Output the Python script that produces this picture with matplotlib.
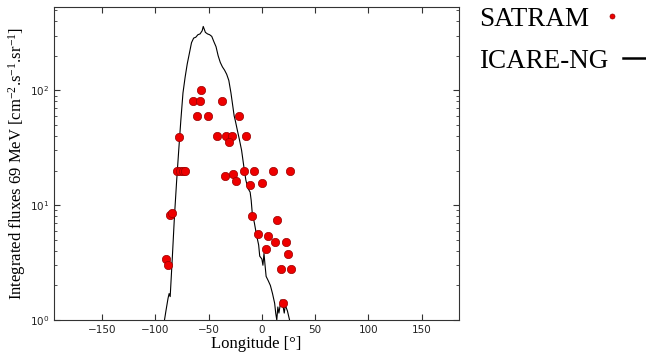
import numpy as np
import matplotlib.pyplot as plt

plt.rcParams['mathtext.fontset'] = 'custom'
plt.rcParams['mathtext.rm'] = 'Liberation Serif'
plt.rcParams['mathtext.it'] = 'Liberation Serif:italic'

# SATRAM measurements (longitude, flux)
sat_lon = [-90, -88.4, -86.3, -84.7, -78.1, -80, -76.9, -74.4, -71.9,
           -65, -58.4, -56.9, -60.7, -50.9, -42.5, -37.2, -33.5, -28.4,
           -30.9, -21.3, -15, -17.2, -7.2, 10.3, 26.6, -34.7, -27.2,
           -24.7, -11, 0.3, -9.4, 14, -3.75, 6.2, 12.5, 22.2, 4, 24.1,
           17.8, 27.8, 20.3]
sat_flux = [3.37, 3.0, 8.2, 8.5, 39, 20, 20, 20, 20,
            80, 80, 100, 59.4, 59.4, 40.4, 80, 40, 40,
            35.3, 59.4, 40, 20, 20, 20, 20, 18.1, 18.7,
            16.4, 14.9, 15.6, 8.13, 7.36, 5.6, 5.38, 4.77, 4.77, 4.17, 3.77,
            2.78, 2.78, 1.4]

# ICARE-NG simulated profile
ic_lon = [-93, -90, -88, -87, -86, -84, -82, -80, -78, -76, -74, -72, -70,
          -68, -66, -64, -62, -60, -58, -56, -55, -54, -53, -51, -49, -47,
          -45, -43, -41, -39, -37, -35, -33, -31, -29, -27, -26, -25, -23,
          -21, -19, -17, -15, -13, -11, -10, -9, -7, -5, -3, -2, 0, 1, 2,
          3, 4, 6, 8, 10, 12, 13, 14, 15, 16, 18, 20, 21, 22, 24, 26, 27]
ic_flux = [0.8, 1.2, 1.55, 1.7, 1.6, 3.5, 8, 16, 30, 55, 95, 130, 170,
           210, 260, 285, 290, 305, 310, 330, 360, 340, 320, 310, 305, 295,
           265, 240, 200, 175, 160, 150, 138, 122, 95, 70, 60, 55, 45,
           37, 30, 22, 16.5, 14, 13, 11, 8.5, 7, 5.5, 4.5, 3.6, 3.4, 3.0, 3.8,
           3.0, 2.4, 2.2, 2.0, 1.7, 1.4, 1.15, 1.0, 1.3, 1.15, 1.5, 1.3, 1.15,
           1.35, 1.2, 1.0, 0.9]

fig = plt.figure(figsize=(6.46, 3.58), dpi=100)
ax = fig.add_axes([0.0836, 0.106, 0.627, 0.874])

sat, = ax.plot(sat_lon, sat_flux, 'o', color='#ee0000', markeredgecolor='#990000',
               markeredgewidth=0.5, markersize=6, label='SATRAM', zorder=3)
ic, = ax.plot(ic_lon, ic_flux, color='black', linewidth=0.8, label='ICARE-NG')

ax.set_yscale('log')
ax.set_xlim(-195, 185)
ax.set_ylim(1, 530)
ax.set_xticks([-150, -100, -50, 0, 50, 100, 150])

ax.tick_params(which='both', direction='in', top=True, right=True,
               labelsize=7.5, colors='#333333', labelcolor='#222222')
ax.tick_params(which='major', length=4)
ax.tick_params(which='minor', length=2)
for s in ax.spines.values():
    s.set_color('#333333')

ax.set_xlabel('Longitude [°]', family='Liberation Serif', fontsize=12, labelpad=1)
ax.set_ylabel('Integrated fluxes 69 MeV [cm$^{-2}$.s$^{-1}$.sr$^{-1}$]',
              family='Liberation Serif', fontsize=12, labelpad=1)

# legend entries outside the axes, text first then handle
leg_prop = {'family': 'Liberation Serif', 'size': 19.5}
for h, yc, pad in [(sat, 0.946, 0.55), (ic, 0.829, 0.25)]:
    lg = fig.legend(handles=[h], loc='center left', bbox_to_anchor=(0.741, yc),
                    frameon=False, markerfirst=False, prop=leg_prop,
                    markerscale=0.6, numpoints=2, handlelength=2.5,
                    handletextpad=pad, borderpad=0, borderaxespad=0)
    for ln in lg.get_lines():
        ln.set_linewidth(1.8)

fig.savefig('out.png', dpi=100)
